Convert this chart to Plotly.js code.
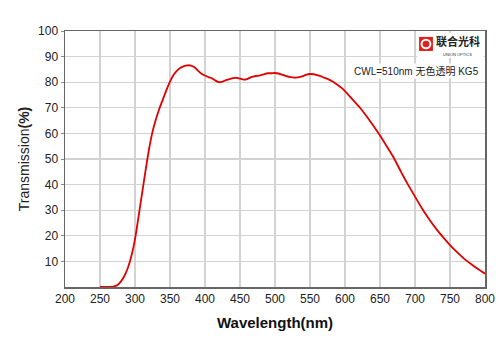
<!DOCTYPE html>
<html>
<head>
<meta charset="utf-8">
<script src="https://cdn.plot.ly/plotly-3.0.1.min.js"></script>
<style>html,body{margin:0;padding:0;background:#fff;}#chart{width:500px;height:353px;}</style>
</head>
<body>
<div id="chart"></div>
<script>
const wavelength = [250,260,270,275,280,285,290,295,300,305,310,315,320,325,330,335,340,345,350,355,360,365,370,375,380,385,390,395,400,405,410,415,420,425,430,435,440,445,450,455,460,465,470,475,480,485,490,495,500,505,510,515,520,525,530,535,540,545,550,555,560,565,570,575,580,585,590,595,600,610,620,630,640,650,660,670,680,690,700,710,720,730,740,750,760,770,780,790,800];
const transmission = [0,0,0.2,0.8,2.2,4.4,7.6,12.3,18.6,27.3,36.4,45.4,53.8,60.6,65.6,69.8,73.4,77,80.2,82.8,84.5,85.6,86.3,86.6,86.5,85.8,84.5,83.3,82.6,82,81.5,80.6,80,80.2,80.8,81.2,81.6,81.7,81.4,81,81.2,81.9,82.3,82.5,82.8,83.2,83.5,83.5,83.6,83.4,83,82.5,82.1,81.9,81.8,82,82.4,83,83.2,83.1,82.8,82.4,81.8,81.3,80.6,79.8,78.8,77.8,76.5,73.5,70.5,67,63.2,59.2,54.8,50.3,45,40,35.3,30.7,26.6,22.8,19.5,16.4,13.6,11.1,9,7,5.2];
const xTicks = [200,250,300,350,400,450,500,550,600,650,700,750,800];
const yTicks = [10,20,30,40,50,60,70,80,90,100];
const noteText = 'CWL=510nm 无色透明 KG5';
const logoText = '联合光科';
const logoSub = 'UNION OPTICS';

const font = 'Arial, "Liberation Sans", sans-serif';
const trace = {
  x: wavelength, y: transmission, type: 'scatter', mode: 'lines',
  line: {color: '#e00000', width: 1.8, shape: 'spline', smoothing: 0.5},
  hoverinfo: 'skip'
};
const layout = {
  width: 500, height: 353,
  margin: {l: 65, r: 15, t: 31, b: 66},
  paper_bgcolor: '#fff', plot_bgcolor: '#fff',
  showlegend: false,
  font: {family: font, size: 12, color: '#222'},
  xaxis: {
    range: [200, 800], tickvals: xTicks, ticktext: xTicks.map(String),
    showgrid: true, gridcolor: '#d2d2d2', gridwidth: 1.3,
    showline: true, linecolor: '#666', linewidth: 1.5, mirror: true,
    zeroline: false, ticks: '', tickfont: {size: 12, color: '#222'},
    title: {text: '<b>Wavelength(nm)</b>', font: {size: 15, color: '#111'}, standoff: 12}
  },
  yaxis: {
    range: [0, 100], tickvals: yTicks, ticktext: yTicks.map(String),
    showgrid: true, gridcolor: '#d2d2d2', gridwidth: 1.3,
    showline: true, linecolor: '#666', linewidth: 1.5, mirror: true,
    zeroline: false, ticks: 'outside', ticklen: 3, tickcolor: '#888', tickfont: {size: 12, color: '#222'},
    title: {text: 'Transmission<b>(%)</b>', font: {size: 14, color: '#222'}, standoff: 5}
  },
  shapes: [
    {type: 'rect', xref: 'paper', yref: 'paper', x0: 0.838, x1: 0.997, y0: 0.895, y1: 0.992, fillcolor: '#fff', line: {width: 0}, layer: 'above'},
    {type: 'rect', xref: 'paper', yref: 'paper', x0: 0.843, x1: 0.876, y0: 0.922, y1: 0.977, fillcolor: '#e0201c', line: {width: 0}, layer: 'above'},
    {type: 'circle', xref: 'paper', yref: 'paper', x0: 0.849, x1: 0.870, y0: 0.933, y1: 0.966, fillcolor: 'rgba(0,0,0,0)', line: {color: '#fff', width: 2}, layer: 'above'}
  ],
  annotations: [
    {xref: 'paper', yref: 'paper', x: 0.935, y: 0.96, text: '<b>' + logoText + '</b>', showarrow: false, font: {family: '"Noto Sans CJK SC", sans-serif', size: 11, color: '#222'}, xanchor: 'center', yanchor: 'middle'},
    {xref: 'paper', yref: 'paper', x: 0.935, y: 0.908, text: logoSub, showarrow: false, font: {family: font, size: 4, color: '#333'}, xanchor: 'center', yanchor: 'middle'},
    {xref: 'paper', yref: 'paper', x: 0.990, y: 0.845, text: noteText, showarrow: false, font: {family: font + ', "Noto Sans CJK SC"', size: 10, color: '#222'}, xanchor: 'right', yanchor: 'middle', bgcolor: '#fff', borderpad: 1}
  ]
};
Plotly.newPlot('chart', [trace], layout, {staticPlot: true, displayModeBar: false});
</script>
</body>
</html>
